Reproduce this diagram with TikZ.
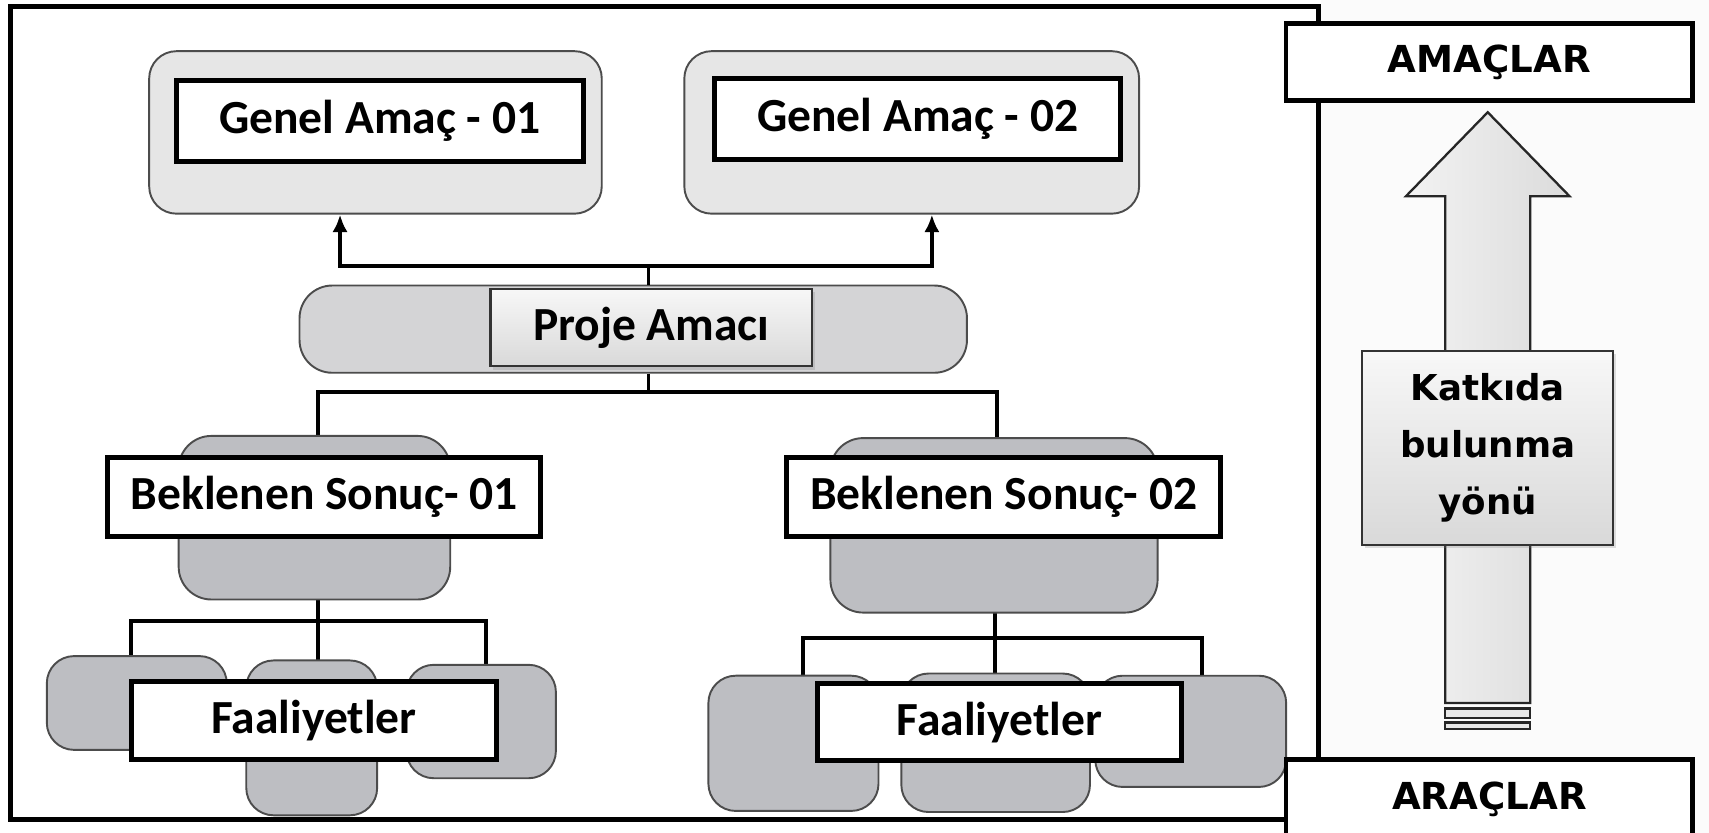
\documentclass[tikz,border=0pt]{standalone}
\usepackage{fontspec}
\setmainfont{Carlito}
\newfontfamily\verd{DejaVu Sans}
\usetikzlibrary{arrows.meta,shadows}
\definecolor{acikgri}{RGB}{230,230,230}
\definecolor{ortagri}{RGB}{212,212,214}
\definecolor{koyugri}{RGB}{189,190,194}

\begin{document}
\begin{tikzpicture}[x=0.01cm,y=-0.01cm,
  zemin/.style={draw=black!70,line width=0.5pt,rounded corners=0.25cm,inner sep=0pt},
  kutu/.style={draw=black,line width=1.3pt,fill=white,inner sep=0pt,font=\bfseries\fontsize{12.4}{15}\selectfont},
  sag/.style={kutu,font=\verd\bfseries\fontsize{9.7}{12}\selectfont,minimum width=3.73cm},
  golge/.style={draw=black!80,line width=0.6pt,top color=gray!6,bottom color=gray!30,drop shadow={opacity=0.25,shadow xshift=0.7pt,shadow yshift=-0.9pt},inner sep=0pt},
  hat/.style={line width=1pt},
  ince/.style={line width=0.6pt},
  ok/.style={line width=1pt,-{Latex[length=1.6mm,width=1.4mm]}}]
\clip (0,0) rectangle (1568,764);
\fill [gray!3] (1212,0) rectangle (1568,764);
\draw [line width=1.3pt] (10,6) rectangle (1210,752);

\node [zemin,fill=acikgri,minimum width=4.15cm,minimum height=1.49cm] (ga1z) at (344.5,121.5) {};
\node [kutu,minimum width=3.73cm,minimum height=0.74cm] (ga1) at (348.5,111) {Genel Amaç - 01};
\node [zemin,fill=acikgri,minimum width=4.17cm,minimum height=1.49cm] (ga2z) at (836.5,121.5) {};
\node [kutu,minimum width=3.72cm,minimum height=0.74cm] (ga2) at (842,109) {Genel Amaç - 02};

\node [zemin,fill=ortagri,rounded corners=0.3cm,minimum width=6.12cm,minimum height=0.8cm] (paz) at (581,302) {};
\node [golge,minimum width=2.95cm,minimum height=0.71cm,font=\bfseries\fontsize{12.4}{15}\selectfont] (pa) at (597.5,300.5) {Proje Amacı};

\coordinate (ust) at (595,244);
\coordinate (alt) at (595,360);
\draw [ince] (paz.north -| ust) -- (ust);
\draw [ok] (ust) -| ([xshift=-0.325cm]ga1z.south);
\draw [ok] (ust) -| ([xshift=0.185cm]ga2z.south);
\draw [ince] (paz.south -| alt) -- (alt);

\coordinate (f1k) at (292,570);
\coordinate (f2k) at (913,585);
\draw [hat] (alt) -| (292,400);
\draw [hat] (alt) -| (915,402);
\draw [hat] (f1k) -- ++(0,-20);
\draw [hat] (f1k) -| (120,602);
\draw [hat] (f1k) -| (446,610);
\draw [hat] (f1k) -- (292,606);
\draw [hat] (f2k) -- ++(0,-23);
\draw [hat] (f2k) -| (737,620);
\draw [hat] (f2k) -| (1103,620);
\draw [hat] (f2k) -- (913,618);

\node [zemin,fill=koyugri,rounded corners=0.3cm,minimum width=2.49cm,minimum height=1.5cm] (bs1z) at (288.5,475) {};
\node [kutu,minimum width=3.97cm,minimum height=0.72cm] (bs1) at (297.5,456) {Beklenen Sonuç- 01};
\node [zemin,fill=koyugri,rounded corners=0.3cm,minimum width=3cm,minimum height=1.6cm] (bs2z) at (912,482) {};
\node [kutu,minimum width=3.98cm,minimum height=0.72cm] (bs2) at (921,456) {Beklenen Sonuç- 02};

\node [zemin,fill=koyugri,minimum width=1.65cm,minimum height=0.86cm] (f1a) at (125.5,645) {};
\node [zemin,fill=koyugri,minimum width=1.2cm,minimum height=1.42cm] (f1b) at (286,677) {};
\node [zemin,fill=koyugri,minimum width=1.37cm,minimum height=1.04cm] (f1c) at (441.5,662) {};
\node [kutu,minimum width=3.34cm,minimum height=0.72cm] (f1) at (288,661) {Faaliyetler};
\node [zemin,fill=koyugri,minimum width=1.56cm,minimum height=1.24cm] (f2a) at (728,682) {};
\node [zemin,fill=koyugri,minimum width=1.73cm,minimum height=1.27cm] (f2b) at (913.5,681.5) {};
\node [zemin,fill=koyugri,minimum width=1.75cm,minimum height=1.02cm] (f2c) at (1092.5,671) {};
\node [kutu,minimum width=3.34cm,minimum height=0.71cm] (f2) at (917,662.5) {Faaliyetler};

\node [sag,minimum height=0.7cm] (amac) at (1366.5,57) {AMAÇLAR};
\node [sag,minimum height=0.72cm] (arac) at (1366.5,733) {ARAÇLAR};

\draw [draw=black!85,line width=0.6pt,left color=gray!10,right color=gray!28] (1365,103) -- (1440,180) -- (1404,180) -- (1404,645) -- (1326,645) -- (1326,180) -- (1290,180) -- cycle;
\draw [draw=black!85,line width=0.6pt,fill=gray!18] (1326,650) rectangle (1404,659);
\draw [draw=black!85,line width=0.6pt,fill=gray!18] (1326,663) rectangle (1404,669);
\node [golge,minimum width=2.3cm,minimum height=1.78cm,align=center,font=\verd\bfseries\fontsize{9.3}{14.8}\selectfont] (yon) at (1365,411) {Katkıda\\bulunma\\yönü};
\end{tikzpicture}
\end{document}
